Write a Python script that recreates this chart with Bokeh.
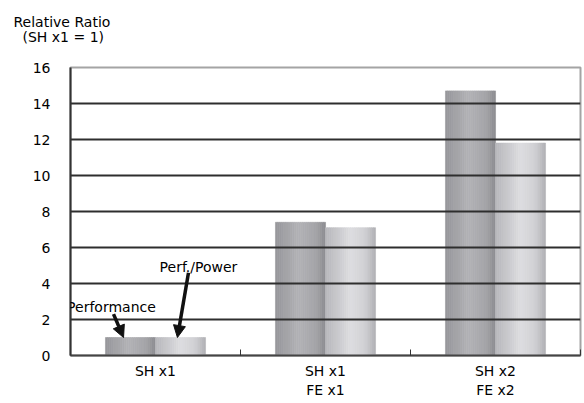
from bokeh.plotting import figure
from bokeh.models import (Range1d, FixedTicker, ColumnDataSource, Label, Arrow,
                          NormalHead, Title)
from bokeh.embed import file_html
from bokeh.resources import INLINE

# ---- data ----
category_labels = ["SH x1", "SH x1\nFE x1", "SH x2\nFE x2"]
performance = [1.0, 7.4, 14.7]
perf_per_power = [1.0, 7.1, 11.8]
y_ticks = [0, 2, 4, 6, 8, 10, 12, 14, 16]
series_names = ["Performance", "Perf./Power"]
title_lines = ["Relative Ratio", "(SH x1 = 1)"]

# ---- styling ----
FONT = "DejaVu Sans"
BAR_W = 0.294
OFFSETS = [-0.147, 0.147]
N_STRIPS = 24
GRAD = [
    [(0.0, (0x96, 0x96, 0x9a)), (0.45, (0xb2, 0xb2, 0xb6)), (0.8, (0xa6, 0xa6, 0xaa)), (1.0, (0x8c, 0x8c, 0x90))],
    [(0.0, (0xb6, 0xb6, 0xba)), (0.5, (0xdd, 0xdd, 0xe0)), (0.8, (0xd0, 0xd0, 0xd4)), (1.0, (0xb0, 0xb0, 0xb4))],
]


def grad_color(stops, t):
    for (t0, c0), (t1, c1) in zip(stops[:-1], stops[1:]):
        if t0 <= t <= t1:
            f = (t - t0) / (t1 - t0)
            c = [round(a + (b - a) * f) for a, b in zip(c0, c1)]
            return "#%02x%02x%02x" % tuple(c)
    return "#%02x%02x%02x" % stops[-1][1]


n_cat = len(category_labels)
p = figure(width=584, height=403, output_backend="svg", toolbar_location=None,
           x_range=Range1d(0, n_cat), y_range=Range1d(0, 16),
           min_border_left=70, min_border_right=4, min_border_top=67,
           min_border_bottom=48)
p.background_fill_color = "white"
p.border_fill_color = "white"
p.outline_line_color = "#a4a4a4"
p.outline_line_width = 2

# titles (nearest to the frame first)
p.add_layout(Title(text=title_lines[1], align="left", offset=-48, standoff=45,
                   text_font=FONT, text_font_size="14px",
                   text_font_style="normal", text_color="black"), "above")
p.add_layout(Title(text=title_lines[0], align="left", offset=-57, standoff=-51,
                   text_font=FONT, text_font_size="14px",
                   text_font_style="normal", text_color="black"), "above")

# gradient bars built from strips
xs, tops, colors = [], [], []
for s, vals in enumerate([performance, perf_per_power]):
    for i, v in enumerate(vals):
        left = i + 0.5 + OFFSETS[s] - BAR_W / 2
        for k in range(N_STRIPS):
            t = (k + 0.5) / N_STRIPS
            xs.append(left + t * BAR_W)
            tops.append(v)
            colors.append(grad_color(GRAD[s], t))
src = ColumnDataSource(dict(x=xs, top=tops, color=colors))
p.vbar(x="x", top="top", bottom=0, width=BAR_W / N_STRIPS * 1.05, source=src,
       fill_color="color", line_color="color", line_width=0.6, level="underlay")

# axes
p.xgrid.visible = False
p.ygrid.ticker = FixedTicker(ticks=y_ticks[1:-1])
p.ygrid.grid_line_color = "#2e2e2e"
p.ygrid.grid_line_width = 2

p.yaxis.ticker = FixedTicker(ticks=y_ticks)
p.yaxis.axis_line_color = "#333333"
p.yaxis.axis_line_width = 2
p.yaxis.major_tick_in = 0
p.yaxis.major_tick_out = 0
p.yaxis.minor_tick_line_color = None
p.yaxis.major_label_standoff = 20
p.yaxis.major_label_text_font = FONT
p.yaxis.major_label_text_font_size = "14px"
p.yaxis.major_label_text_color = "black"

centers = [i + 0.5 for i in range(n_cat)]
p.xaxis.ticker = FixedTicker(ticks=centers, minor_ticks=list(range(n_cat + 1)))
p.xaxis.major_label_overrides = {c: lab for c, lab in zip(centers, category_labels)}
p.xaxis.axis_line_color = "#444444"
p.xaxis.axis_line_width = 2
p.xaxis.major_tick_in = 0
p.xaxis.major_tick_out = 0
p.xaxis.minor_tick_in = 6
p.xaxis.minor_tick_out = 0
p.xaxis.minor_tick_line_color = "#333333"
p.xaxis.major_label_standoff = 7
p.xaxis.major_label_text_font = FONT
p.xaxis.major_label_text_font_size = "14px"
p.xaxis.major_label_text_color = "black"
p.xaxis.major_label_text_line_height = 1.2

# callouts
perf_text_pos = (-0.02, 2.67)
perf_arrow = ((0.253, 2.3), (0.312, performance[0]))
ppw_text_pos = (0.524, 4.89)
ppw_arrow = ((0.694, 4.6), (0.629, perf_per_power[0]))
for (tx, ty), name, ((x0, y0), (x1, y1)) in [
        (perf_text_pos, series_names[0], perf_arrow),
        (ppw_text_pos, series_names[1], ppw_arrow)]:
    p.add_layout(Label(x=tx, y=ty, text=name, text_align="left",
                       text_baseline="middle", text_font=FONT,
                       text_font_size="14px", text_color="black"))
    p.add_layout(Arrow(x_start=x0, y_start=y0, x_end=x1, y_end=y1,
                       line_color="#111111", line_width=3.5,
                       end=NormalHead(size=12, fill_color="#111111",
                                      line_color="#111111")))

open("out.html", "w").write(file_html(p, INLINE))
